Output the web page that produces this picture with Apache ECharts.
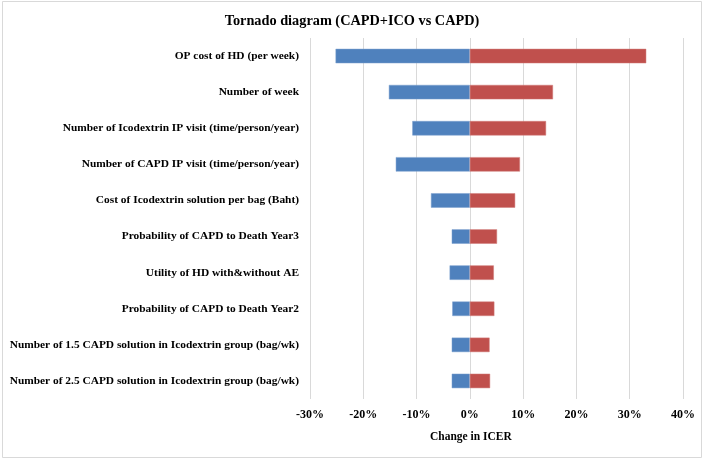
<!DOCTYPE html>
<html>
<head>
<meta charset="utf-8">
<script src="https://cdn.jsdelivr.net/npm/echarts@6/dist/echarts.min.js"></script>
<style>
  html, body { margin: 0; padding: 0; background: #fff; }
  #chart { width: 704px; height: 461px; }
</style>
</head>
<body>
<div id="chart"></div>
<script>
// parameters, top to bottom
const categories = [
  'OP cost of HD (per week)',
  'Number of week',
  'Number of Icodextrin IP visit (time/person/year)',
  'Number of CAPD IP visit (time/person/year)',
  'Cost of Icodextrin solution per bag (Baht)',
  'Probability of CAPD to Death Year3',
  'Utility of HD with&without AE',
  'Probability of CAPD to Death Year2',
  'Number of 1.5 CAPD solution in Icodextrin group (bag/wk)',
  'Number of 2.5 CAPD solution in Icodextrin group (bag/wk)'
]
// change in ICER (%)
const lowValues = [-25.2, -15.2, -10.8, -13.9, -7.3, -3.4, -3.8, -3.3, -3.4, -3.4]
const highValues = [33.1, 15.6, 14.3, 9.4, 8.5, 5.1, 4.5, 4.6, 3.7, 3.8]
const xTicks = { min: -30, max: 40, step: 10 }

const font = '"Liberation Serif", "Times New Roman", serif'
const chart = echarts.init(document.getElementById('chart'))

chart.setOption({
  backgroundColor: '#fff',
  animation: false,
  title: {
    text: 'Tornado diagram (CAPD+ICO vs CAPD)',
    left: 'center',
    top: 9,
    textStyle: { fontFamily: font, fontSize: 14.3, fontWeight: 'bold', color: '#000' }
  },
  graphic: [
    {
      // chart area border
      type: 'rect',
      shape: { x: 2.5, y: 1.5, width: 699, height: 456 },
      style: { fill: 'none', stroke: '#d9d9d9', lineWidth: 1 },
      silent: true
    },
    {
      // axis title, Excel put it under 0%
      type: 'text',
      left: 430,
      top: 431,
      style: { text: 'Change in ICER', font: 'bold 11.5px ' + font, fill: '#000' }
    }
  ],
  grid: { left: 310, right: 21, top: 38, bottom: 62 },
  xAxis: {
    type: 'value',
    min: xTicks.min,
    max: xTicks.max,
    interval: xTicks.step,
    axisLine: { show: false },
    axisTick: { show: false },
    splitLine: { lineStyle: { color: '#d9d9d9', width: 1 } },
    axisLabel: {
      formatter: v => v + '%',
      fontFamily: font,
      fontSize: 12,
      fontWeight: 'bold',
      color: '#000',
      margin: 10
    }
  },
  yAxis: {
    type: 'category',
    data: categories,
    inverse: true,
    axisLine: { show: false },
    axisTick: { show: false },
    axisLabel: {
      fontFamily: font,
      fontSize: 11.4,
      fontWeight: 'bold',
      color: '#000',
      margin: 11
    }
  },
  series: [
    {
      name: 'Low',
      type: 'bar',
      stack: 'icer',
      data: lowValues,
      barWidth: '40%',
      itemStyle: { color: '#4f81bd', borderColor: '#7da0cf', borderWidth: 0.5 }
    },
    {
      name: 'High',
      type: 'bar',
      stack: 'icer',
      data: highValues,
      barWidth: '40%',
      itemStyle: { color: '#c0504d', borderColor: '#d07c7a', borderWidth: 0.5 }
    }
  ]
})
</script>
</body>
</html>
